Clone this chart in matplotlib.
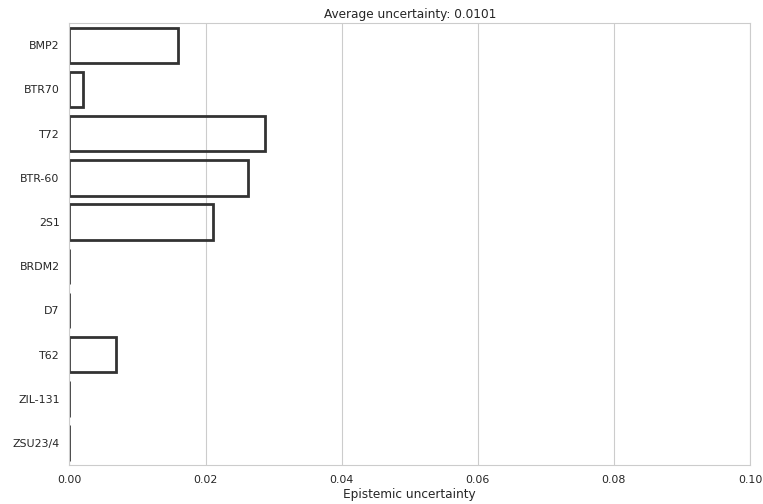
import matplotlib
matplotlib.use("Agg")
import matplotlib.pyplot as plt
import numpy as np
import seaborn as sns

classes = ['BMP2', 'BTR70', 'T72', 'BTR-60', '2S1', 'BRDM2', 'D7', 'T62', 'ZIL-131', 'ZSU23/4']
uncertainty = [0.0159, 0.00194, 0.0288, 0.0263, 0.0211, 0.0, 0.0, 0.00684, 0.0, 0.0]

sns.set_style("whitegrid")

fig, ax = plt.subplots(figsize=(7.63, 5.04), dpi=100)
sns.barplot(x=uncertainty, y=classes, orient='h', ax=ax,
            facecolor=(1, 1, 1, 0), edgecolor=".2", linewidth=2, errorbar=None)
ax.set_xlim(0, 0.10)
ax.set_xticks(np.arange(0, 0.101, 0.02))
ax.set_xticklabels(['%.2f' % t for t in np.arange(0, 0.101, 0.02)])
ax.set_xlabel("Epistemic uncertainty", fontsize=8.7, labelpad=2)
ax.set_ylabel("")
ax.tick_params(labelsize=7.9)
ax.set_title("Average uncertainty: %.4f" % np.mean(uncertainty), fontsize=8.7, pad=4)
for s in ax.spines.values():
    s.set_color('#cccccc')

fig.subplots_adjust(left=0.091, right=0.983, top=0.954, bottom=0.077)
fig.savefig("out.png", dpi=100)
